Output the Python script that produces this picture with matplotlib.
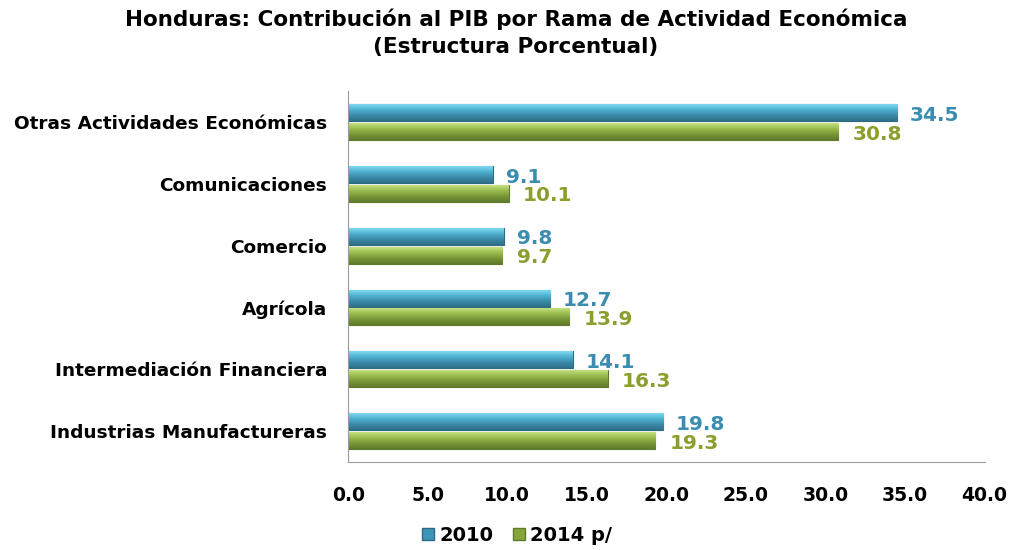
import matplotlib.pyplot as plt
import numpy as np
from matplotlib.colors import LinearSegmentedColormap
from matplotlib.patches import Patch

# datos (de arriba hacia abajo)
categorias = ['Otras Actividades Económicas', 'Comunicaciones', 'Comercio',
              'Agrícola', 'Intermediación Financiera', 'Industrias Manufactureras']
v2010 = [34.5, 9.1, 9.8, 12.7, 14.1, 19.8]
v2014 = [30.8, 10.1, 9.7, 13.9, 16.3, 19.3]
ticks_x = [0, 5, 10, 15, 20, 25, 30, 35, 40]

azul = '#3d96b8'
verde = '#88a43c'
azul_txt = '#3a8db0'
verde_txt = '#8c9e2e'

fig = plt.figure(figsize=(10.12, 5.5), dpi=100)
ax = fig.add_axes([0.344, 0.16, 0.629, 0.674])

n = len(categorias)
y = np.arange(n)[::-1]
h = 0.275
gap = 0.03

b1 = ax.barh(y + h/2 + gap/2, v2010, height=h, color=azul, edgecolor='#2c6a82', linewidth=0.8, zorder=2)
b2 = ax.barh(y - h/2 - gap/2, v2014, height=h, color=verde, edgecolor='#5f7a2a', linewidth=0.8, zorder=2)

# degradado tipo "cilindro"
cm_azul = LinearSegmentedColormap.from_list('a', ['#2f6f88', '#3a8aa8', '#4fb0d0', '#7fdaf0'])
cm_verde = LinearSegmentedColormap.from_list('v', ['#5f7a2c', '#7a9636', '#99bb4e', '#c4e07e'])
grad = np.linspace(0, 1, 50).reshape(-1, 1)
for bars, cmap in ((b1, cm_azul), (b2, cm_verde)):
    for b in bars:
        x0, y0 = b.get_x(), b.get_y()
        w, hh = b.get_width(), b.get_height()
        ax.imshow(grad, cmap=cmap, aspect='auto', origin='lower',
                  extent=[x0, x0 + w, y0, y0 + hh], zorder=2.5, interpolation='bicubic')

for b, v in zip(b1, v2010):
    ax.text(v + 0.8, b.get_y() + b.get_height()*0.35, f'{v:.1f}', color=azul_txt,
            fontsize=14.5, fontweight='bold', va='center', ha='left')
for b, v in zip(b2, v2014):
    ax.text(v + 0.9, b.get_y() + b.get_height()*0.35, f'{v:.1f}', color=verde_txt,
            fontsize=14.5, fontweight='bold', va='center', ha='left')

ax.set_xlim(0, 40)
ax.set_ylim(-0.5, n - 0.5)
ax.set_xticks(ticks_x)
ax.set_xticklabels([f'{t:.1f}' for t in ticks_x], fontsize=13.5, fontweight='bold')
ax.set_yticks(y)
ax.set_yticklabels(categorias, fontsize=13.3, fontweight='bold')
ax.tick_params(axis='y', length=0, pad=15)
ax.tick_params(axis='x', length=0, pad=17)
for s in ('top', 'right'):
    ax.spines[s].set_visible(False)
for s in ('left', 'bottom'):
    ax.spines[s].set_color('#9a9a9a')

fig.suptitle('Honduras: Contribución al PIB por Rama de Actividad Económica\n(Estructura Porcentual)',
             fontsize=15.5, fontweight='bold', y=0.985, x=0.51, linespacing=1.45)

handles = [Patch(facecolor=azul, edgecolor='#2c6a82', label='2010'),
           Patch(facecolor=verde, edgecolor='#5f7a2a', label='2014 p/')]
fig.legend(handles=handles, loc='lower center', bbox_to_anchor=(0.511, -0.022), ncol=2,
           frameon=False, prop={'weight': 'bold', 'size': 14}, handlelength=0.6,
           handleheight=0.6, handletextpad=0.3, columnspacing=1.0)

fig.savefig('out.png', dpi=100)
